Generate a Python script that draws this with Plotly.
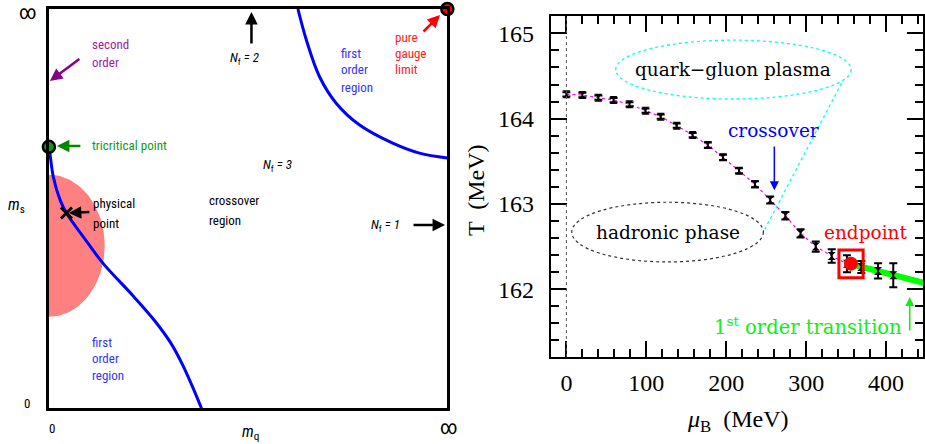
import numpy as np
import plotly.graph_objects as go

W, H = 925, 444

# ---------------- Left panel data (Columbia plot, unit square) ----------------
lower_curve_x = [0.0, 0.003, 0.011, 0.028, 0.044, 0.086, 0.136, 0.211, 0.265, 0.305, 0.335, 0.360, 0.383]
lower_curve_y = [0.655, 0.635, 0.580, 0.522, 0.489, 0.430, 0.363, 0.282, 0.220, 0.165, 0.110, 0.055, 0.0]
upper_curve_x = [0.625, 0.646, 0.679, 0.721, 0.779, 0.863, 0.930, 1.0]
upper_curve_y = [1.0, 0.923, 0.831, 0.764, 0.710, 0.664, 0.639, 0.627]
tricritical = (0.0, 0.655)
pure_gauge = (1.0, 1.0)
physical_pt = (0.044, 0.489)
pink_cy, pink_rx, pink_ry = 0.407, 0.140, 0.178

# ---------------- Right panel data ----------------
mu_B = [0, 20, 40, 59, 79, 99, 118, 138, 158, 177, 196, 216, 236, 255, 274, 293,
        312, 332, 351, 369, 390, 409]
T_c = [164.285, 164.277, 164.245, 164.218, 164.168, 164.093, 164.023, 163.918,
       163.808, 163.690, 163.546, 163.389, 163.230, 163.046, 162.862, 162.655,
       162.500, 162.390, 162.300, 162.260, 162.215, 162.165]
T_err = [0.025, 0.025, 0.025, 0.025, 0.025, 0.025, 0.025, 0.025, 0.025, 0.03,
         0.03, 0.03, 0.035, 0.04, 0.045, 0.047, 0.06, 0.078, 0.10, 0.07, 0.09, 0.14]
n_crossover = 19
endpoint_mu, endpoint_T = 356, 162.30
first_order_mu = [358, 452]
first_order_T = [162.29, 162.065]

fig = go.Figure()

# pink half-disc region
t = np.linspace(-np.pi / 2, np.pi / 2, 80)
fig.add_trace(go.Scatter(x=pink_rx * np.cos(t), y=pink_cy + pink_ry * np.sin(t),
                         fill='toself', fillcolor='#ff8080', mode='lines',
                         line=dict(width=0, color='#ff8080'), hoverinfo='skip'))
fig.add_trace(go.Scatter(x=lower_curve_x, y=lower_curve_y, mode='lines',
                         line=dict(color='#0000ff', width=3, shape='spline', smoothing=1.0)))
fig.add_trace(go.Scatter(x=upper_curve_x, y=upper_curve_y, mode='lines',
                         line=dict(color='#0000ff', width=3, shape='spline')))
fig.add_trace(go.Scatter(x=[physical_pt[0]], y=[physical_pt[1]], mode='markers',
                         marker=dict(symbol='x-thin', size=11, line=dict(width=3, color='black'))))
fig.add_trace(go.Scatter(x=[tricritical[0]], y=[tricritical[1]], mode='markers', cliponaxis=False,
                         marker=dict(size=12, color='#119911', line=dict(width=2.5, color='black'))))
fig.add_trace(go.Scatter(x=[pure_gauge[0]], y=[pure_gauge[1]], mode='markers', cliponaxis=False,
                         marker=dict(size=12, color='#ff0000', line=dict(width=2.5, color='black'))))

# right panel traces
fig.add_trace(go.Scatter(x=mu_B[:n_crossover], y=T_c[:n_crossover], mode='lines',
                         xaxis='x2', yaxis='y2',
                         line=dict(color='#ff00ff', width=1.2, dash='dot')))
fig.add_trace(go.Scatter(x=first_order_mu, y=first_order_T, mode='lines',
                         xaxis='x2', yaxis='y2', line=dict(color='#00ff00', width=6)))
fig.add_trace(go.Scatter(x=mu_B, y=T_c, mode='markers', xaxis='x2', yaxis='y2',
                         marker=dict(symbol='hourglass', size=8, color='black'),
                         error_y=dict(type='data', array=T_err, color='black',
                                      thickness=2, width=4)))
fig.add_trace(go.Scatter(x=[endpoint_mu], y=[endpoint_T], mode='markers', xaxis='x2', yaxis='y2',
                         marker=dict(size=14, color='#ff0000')))

sans = "Liberation Sans Narrow, Roboto Condensed, Liberation Sans, Arial"
serif = "DejaVu Serif"
num = "Liberation Serif"


def px(xp, yp):
    return xp / W, 1 - yp / H


annotations = []


def label(text, xp, yp, color='black', size=13, xanchor='left', family=sans):
    x, y = px(xp, yp)
    annotations.append(dict(text=text, x=x, y=y, xref='paper', yref='paper',
                            xanchor=xanchor, yanchor='middle', showarrow=False,
                            font=dict(family=family, size=size, color=color)))


def arrow(hx, hy, tx, ty, color, width=2.5):
    x, y = px(hx, hy)
    annotations.append(dict(text='', x=x, y=y, xref='paper', yref='paper', showarrow=True,
                            ax=tx - hx, ay=ty - hy, arrowhead=2, arrowsize=1,
                            arrowwidth=width, arrowcolor=color))


# left panel text
for s, yy in [('second', 45), ('order', 62)]:
    label(s, 90, yy, color='#a020a0')
arrow(50, 81, 81, 58, '#880088')
label('tricritical point', 90, 145, color='#119911')
arrow(57, 146, 82, 146, '#008800')
label('physical', 91, 203)
label('point', 91, 223)
arrow(69, 213, 91, 212, 'black')
label('crossover', 207, 200)
label('region', 207, 220)
label('<i>N</i><sub>f</sub><i> = 3</i>', 262, 165)
label('<i>N</i><sub>f</sub><i> = 2</i>', 228, 58)
arrow(252, 12, 252, 45, 'black')
label('<i>N</i><sub>f</sub><i> = 1</i>', 370, 225)
arrow(446, 225, 413, 225, 'black')
for s, yy in [('first', 53), ('order', 70), ('region', 87)]:
    label(s, 340, yy, color='#3333ff')
for s, yy in [('pure', 37), ('gauge', 54), ('limit', 70)]:
    label(s, 394, yy, color='#ff2020')
arrow(441, 15, 423, 33, '#ff0000')
for s, yy in [('first', 342), ('order', 358), ('region', 375)]:
    label(s, 90, yy, color='#3333ff')
label('<i>m</i><sub>s</sub>', 17, 205, size=16, xanchor='center')
label('<i>m</i><sub>q</sub>', 251, 432, size=16, xanchor='center')
label('0', 27, 403, size=13, xanchor='center')
label('0', 52, 428, size=13, xanchor='center')
label('∞', 28, 12, size=20, xanchor='center')
label('∞', 449, 427, size=20, xanchor='center')

# right panel text
def rlabel(text, mu, T, color='black', size=18.5):
    annotations.append(dict(text=text, x=mu, y=T, xref='x2', yref='y2', showarrow=False,
                            xanchor='center', yanchor='middle',
                            font=dict(family=serif, size=size, color=color)))


rlabel('quark−gluon plasma', 209, 164.57)
rlabel('crossover', 259.6, 163.865, color='#0000ff')
rlabel('hadronic phase', 126.6, 162.67)
rlabel('endpoint', 375, 162.67, color='#ff0000')
rlabel('1<sup>st</sup> order transition', 302.7, 161.57, color='#11ee11', size=19.5)
annotations.append(dict(text='', x=260.2, y=163.16, xref='x2', yref='y2', axref='x2', ayref='y2',
                        ax=260.2, ay=163.69, showarrow=True, arrowhead=2, arrowsize=1.2,
                        arrowwidth=1.5, arrowcolor='#0000ff'))
annotations.append(dict(text='', x=429.6, y=161.91, xref='x2', yref='y2', axref='x2', ayref='y2',
                        ax=429.6, ay=161.5, showarrow=True, arrowhead=2, arrowsize=1.2,
                        arrowwidth=1.5, arrowcolor='#11ee11'))
label('T  (MeV)', 477, 190, size=24, xanchor='center', family=num)
annotations[-1]['textangle'] = -90
label('<i>μ</i><sub>B</sub>  (MeV)', 740, 421, size=24, xanchor='center', family=num)

shapes = [
    dict(type='line', xref='x2', yref='y2 domain', x0=0, x1=0, y0=0, y1=1,
         line=dict(color='#555555', width=1, dash='dot')),
    dict(type='circle', xref='x2', yref='y2', x0=61.7, x1=356.3, y0=164.23, y1=164.92,
         line=dict(color='#00ffff', width=1.3, dash='dot')),
    dict(type='line', xref='x2', yref='y2', x0=344.2, y0=164.414, x1=246.4, y1=162.67,
         line=dict(color='#00ffff', width=1.3, dash='dot')),
    dict(type='circle', xref='x2', yref='y2', x0=6.7, x1=246.5, y0=162.32, y1=163.02,
         line=dict(color='#333333', width=1.2, dash='dot')),
    dict(type='rect', xref='x2', yref='y2', x0=341, x1=371.3, y0=162.135, y1=162.46,
         line=dict(color='#ff0000', width=3)),
]

frame_l = dict(showline=True, linecolor='black', mirror=True, showgrid=False, zeroline=False)
frame_r = dict(showline=True, linecolor='black', mirror='allticks', showgrid=False, zeroline=False)

fig.update_layout(
    width=W, height=H, margin=dict(l=0, r=0, t=0, b=0),
    paper_bgcolor='white', plot_bgcolor='white', showlegend=False,
    annotations=annotations, shapes=shapes,
    xaxis=dict(domain=[49 / W, 448.3 / W], range=[0, 1], linewidth=3, ticks='',
               showticklabels=False, **frame_l),
    yaxis=dict(domain=[1 - 408.3 / H, 1 - 9 / H], range=[0, 1], linewidth=3, ticks='',
               showticklabels=False, **frame_l),
    xaxis2=dict(domain=[552 / W, 1.0], range=[-19.5, 446.2], anchor='y2', linewidth=2,
                ticks='inside', ticklen=16, tickwidth=2, tickcolor='black', dtick=100, tick0=0,
                minor=dict(dtick=20, tick0=0, ticks='inside', ticklen=8, tickwidth=1.5,
                           tickcolor='black'),
                tickfont=dict(family=num, size=24, color='black'), ticklabelstandoff=3,
                **frame_r),
    yaxis2=dict(domain=[1 - 357 / H, 1 - 16 / H], range=[161.206, 165.203], anchor='x2',
                linewidth=2, ticks='inside', ticklen=16, tickwidth=2, tickcolor='black',
                dtick=1, tick0=0,
                minor=dict(dtick=0.2, tick0=0, ticks='inside', ticklen=8, tickwidth=1.5,
                           tickcolor='black'),
                tickfont=dict(family=num, size=24, color='black'), ticklabelstandoff=10,
                **frame_r),
)

fig.write_html("out.html", config={'displayModeBar': False},
               post_script="document.body.style.margin='0px';")
